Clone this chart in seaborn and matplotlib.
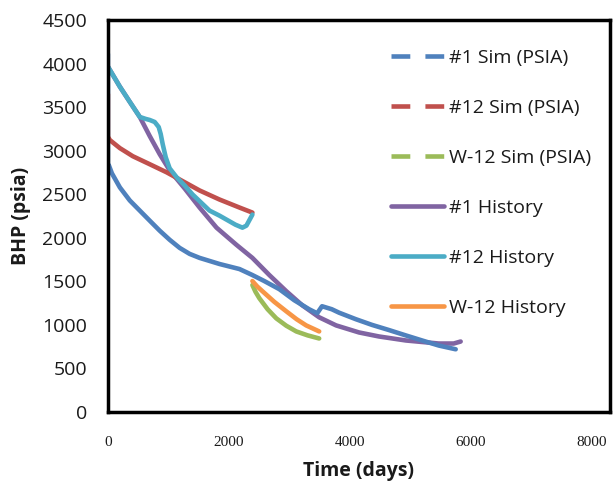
import matplotlib
matplotlib.use("Agg")
import matplotlib.pyplot as plt
from matplotlib.lines import Line2D
import seaborn as sns
import pandas as pd

# values (days, psia)
sim1_days = [0, 0, 16, 66, 198, 362, 527, 692, 857, 1021, 1186, 1351, 1516, 1845, 2175, 2389, 2586,
             2834, 3081, 3328, 3460, 3540, 3700, 3822, 4100, 4366, 4650, 4926, 5200, 5470, 5750]
sim1_psia = [4110, 2830, 2832, 2740, 2578, 2428, 2312, 2196, 2081, 1977, 1884, 1815, 1769, 1699, 1641, 1572, 1503,
             1410, 1283, 1179, 1133, 1214, 1180, 1140, 1065, 1000, 940, 879, 820, 763, 720]

sim12_days = [0, 0, 33, 198, 412, 692, 972, 1516, 1845, 2175, 2389]
sim12_psia = [3650, 3160, 3121, 3029, 2936, 2844, 2751, 2543, 2439, 2347, 2289]

simw12_days = [2389, 2440, 2504, 2640, 2784, 2950, 3114, 3300, 3493]
simw12_psia = [1457, 1380, 1306, 1180, 1075, 990, 925, 880, 844]

hist1_days = [0, 198, 362, 527, 692, 857, 1021, 1269, 1516, 1796, 2125, 2389, 2669, 2949, 3213, 3493,
              3773, 4152, 4481, 4926, 5470, 5717, 5832]
hist1_psia = [3965, 3734, 3560, 3387, 3167, 2959, 2774, 2566, 2347, 2116, 1919, 1769, 1572, 1387, 1225, 1087,
              994, 913, 867, 821, 786, 786, 809]

hist12_days = [0, 198, 362, 527, 626, 692, 774, 840, 873, 906, 956, 1021, 1137, 1269, 1400, 1680, 1845,
               2109, 2224, 2290, 2389]
hist12_psia = [3965, 3734, 3560, 3387, 3364, 3352, 3329, 3271, 3191, 3075, 2925, 2797, 2694, 2601, 2497, 2312, 2254,
               2150, 2116, 2139, 2266]

histw12_days = [2389, 2470, 2554, 2750, 2949, 3120, 3278, 3493]
histw12_psia = [1503, 1440, 1387, 1265, 1156, 1065, 994, 925]

labels = ["#1 Sim (PSIA)", "#12 Sim (PSIA)", "W-12 Sim (PSIA)", "#1 History", "#12 History", "W-12 History"]
colors = ["#4F81BD", "#C0504D", "#9BBB59", "#8064A2", "#4BACC6", "#F79646"]
xticks = [0, 2000, 4000, 6000, 8000]
yticks = [0, 500, 1000, 1500, 2000, 2500, 3000, 3500, 4000, 4500]

sns.set_style("white")
plt.rcParams['font.family'] = ['Open Sans', 'DejaVu Sans']
plt.rcParams['text.color'] = '0.1'
plt.rcParams['axes.labelcolor'] = '0.1'
plt.rcParams['xtick.color'] = '0.1'
plt.rcParams['ytick.color'] = '0.1'

fig = plt.figure(figsize=(6.13, 4.87), dpi=100)
ax = fig.add_axes([0.176, 0.154, 0.819, 0.805])

series = [(sim1_days, sim1_psia), (sim12_days, sim12_psia), (simw12_days, simw12_psia),
          (hist1_days, hist1_psia), (hist12_days, hist12_psia), (histw12_days, histw12_psia)]
# draw order: sims underneath, then histories
order = [3, 0, 1, 4, 2, 5]
for i in order:
    d, p = series[i]
    df = pd.DataFrame({"days": d, "psia": p})
    sns.lineplot(data=df, x="days", y="psia", sort=False, estimator=None,
                 color=colors[i], lw=3.3, ax=ax, solid_capstyle="round",
                 solid_joinstyle="round")

ax.set_xlim(0, 8300)
ax.set_ylim(0, 4500)
ax.set_xticks(xticks)
ax.set_yticks(yticks)
ax.set_xticklabels([str(t) for t in xticks], family=['Liberation Serif'], fontsize=11)
ax.set_yticklabels([str(t) for t in yticks], fontsize=14)
ax.tick_params(axis='x', length=0, pad=17)
ax.tick_params(axis='y', length=0, pad=15)
ax.set_xlabel("Time (days)", fontsize=14, fontweight="bold", labelpad=9)
ax.set_ylabel("BHP (psia)", fontsize=14, fontweight="bold", labelpad=8)

for s in ax.spines.values():
    s.set_color("black")
    s.set_linewidth(2.5)

handles = []
for i, lab in enumerate(labels):
    if i < 3:
        handles.append(Line2D([], [], color=colors[i], lw=3.3, dashes=(4.1, 3.3)))
    else:
        handles.append(Line2D([], [], color=colors[i], lw=3.3))
ax.legend(handles, labels, loc="upper left", bbox_to_anchor=(0.564, 0.927), frameon=False,
          fontsize=14, handlelength=2.7, handletextpad=0.26, labelspacing=1.65,
          borderpad=0, borderaxespad=0)

fig.savefig("out.png", dpi=100)
